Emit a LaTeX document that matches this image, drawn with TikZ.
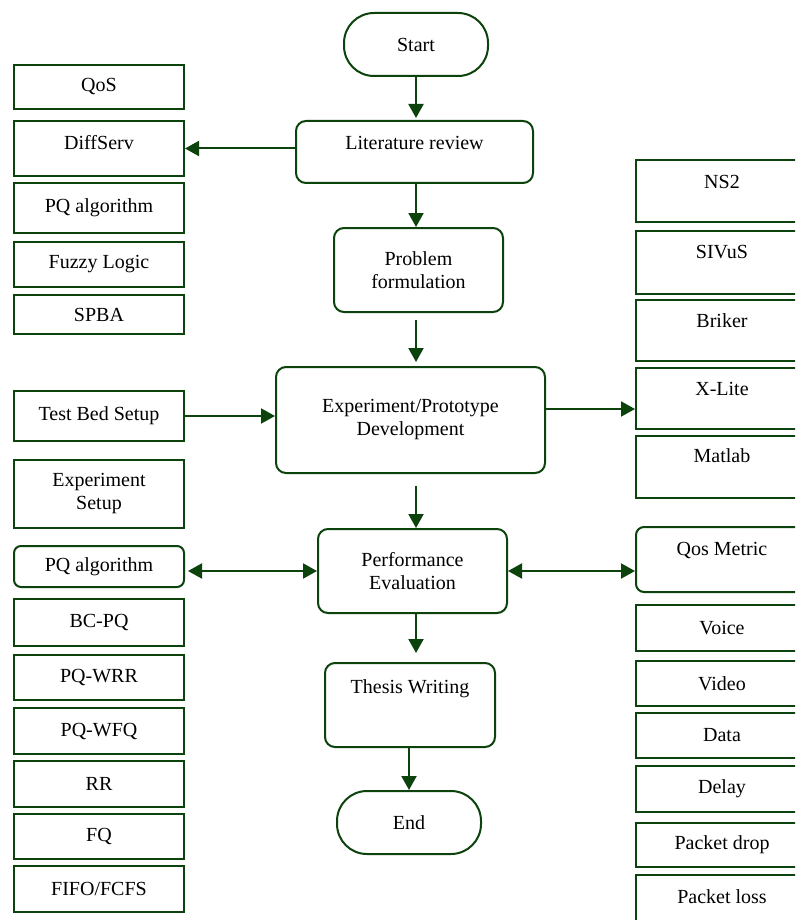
\documentclass[tikz,border=0pt]{standalone}
\usepackage{fontspec}
\setmainfont{Liberation Serif}
\usepackage{xcolor}
\usetikzlibrary{arrows.meta}
\definecolor{dgreen}{RGB}{12,66,12}
\tikzset{
    tnode/.style = {align=center, inner sep=0pt, text centered, font=\fontsize{20}{23}\selectfont},
    sq_node/.style = {tnode, rectangle, draw=dgreen, line width=2pt},
    rd_node/.style = {tnode, rectangle, rounded corners=10pt, draw=dgreen, line width=2pt},
    term_node/.style = {tnode, rectangle, rounded corners=30pt, draw=dgreen, line width=2pt},
    left_node/.style = {sq_node, minimum width=170pt, minimum height=#1},
    right_node/.style = {sq_node, minimum width=172pt, minimum height=#1},
    lift/.style = {text height=14pt, text depth=#1},
    flow/.style = {draw=dgreen, line width=2pt}
}

\begin{document}
\begin{tikzpicture}[x=1pt, y=-1pt, >={Triangle[length=14pt,width=15pt]}]
    \useasboundingbox (0,0) rectangle (795,920);
    \clip (0,0) rectangle (795,920);
    \fill[white] (0,0) rectangle (795,920);

    \node (start) [term_node, minimum width=144pt, minimum height=63pt] at (416,44.5) {Start};
    \node (lit) [rd_node, lift=18pt, minimum width=237pt, minimum height=62pt] at (414.5,152) {Literature review};
    \node (prob) [rd_node, minimum width=169pt, minimum height=84pt] at (418.5,270) {Problem\\formulation};
    \node (exp) [rd_node, minimum width=269pt, minimum height=106pt] at (410.5,420) {Experiment/Prototype\\Development};
    \node (perf) [rd_node, minimum width=189pt, minimum height=84pt] at (412.5,571) {Performance\\Evaluation};
    \node (thesis) [rd_node, lift=38pt, minimum width=170pt, minimum height=84pt] at (410,705) {Thesis Writing};
    \node (end) [term_node, minimum width=144pt, minimum height=63pt] at (409,822.5) {End};

    \node (qos) [left_node=44pt] at (99,87) {QoS};
    \node (diff) [left_node=55pt, lift=12pt] at (99,148.5) {DiffServ};
    \node (pqa) [left_node=50pt] at (99,208) {PQ algorithm};
    \node (fuzzy) [left_node=45pt] at (99,264.5) {Fuzzy Logic};
    \node (spba) [left_node=39pt] at (99,314.5) {SPBA};
    \node (test) [left_node=50pt] at (99,416) {Test Bed Setup};
    \node (expset) [left_node=68pt] at (99,494) {Experiment\\Setup};
    \node (pqb) [rd_node, rounded corners=7pt, minimum width=170pt, minimum height=41pt] at (99,566.5) {PQ algorithm};
    \node (bcpq) [left_node=47pt] at (99,622.5) {BC-PQ};
    \node (pqwrr) [left_node=45pt] at (99,677.5) {PQ-WRR};
    \node (pqwfq) [left_node=46pt] at (99,731) {PQ-WFQ};
    \node (rr) [left_node=46pt] at (99,784) {RR};
    \node (fq) [left_node=45pt] at (99,836.5) {FQ};
    \node (fifo) [left_node=46pt] at (99,889) {FIFO/FCFS};

    \node (ns2) [right_node=62pt, lift=18pt] at (722,191) {NS2};
    \node (sivus) [right_node=63pt, lift=22pt] at (722,262.5) {SIVuS};
    \node (briker) [right_node=61pt, lift=20pt] at (722,330.5) {Briker};
    \node (xlite) [right_node=61pt, lift=20pt] at (722,398.5) {X-Lite};
    \node (matlab) [right_node=62pt, lift=24pt] at (722,467) {Matlab};
    \node (qosm) [rd_node, rounded corners=8pt, lift=22pt, minimum width=172pt, minimum height=65pt] at (722,559.5) {Qos Metric};
    \node (voice) [right_node=46pt] at (722,628) {Voice};
    \node (video) [right_node=45pt] at (722,683.5) {Video};
    \node (data) [right_node=45pt] at (722,735.5) {Data};
    \node (delay) [right_node=46pt] at (722,789) {Delay};
    \node (pdrop) [right_node=44pt] at (722,845) {Packet drop};
    \node (ploss) [right_node=62pt, lift=20pt] at (722,906) {Packet loss};

    \draw[flow, ->, shorten >=2pt] (start.south) -- (start.south |- lit.north);
    \draw[flow, ->] (lit.south -| start) -- (prob.north -| start);
    \draw[flow, ->, shorten <=7pt, shorten >=4pt] (prob.south -| start) -- (exp.north -| start);
    \draw[flow, ->, shorten <=12pt] (exp.south -| start) -- (perf.north -| start);
    \draw[flow, ->, shorten >=9pt] (perf.south -| start) -- (thesis.north -| start);
    \draw[flow, ->] (thesis.south -| end) -- (end.north);

    \draw[flow, ->] (lit.west |- diff.east) -- (diff.east);
    \draw[flow, ->] (test.east) -- (test.east -| exp.west);
    \draw[flow, ->] ([yshift=11pt]exp.east) -- ([yshift=11pt]exp.east -| xlite.west);
    \draw[flow, <->, shorten <=3pt] (perf.west -| pqb.east) -- (perf.west);
    \draw[flow, <->] (perf.east) -- (perf.east -| qosm.west);
\end{tikzpicture}
\end{document}
